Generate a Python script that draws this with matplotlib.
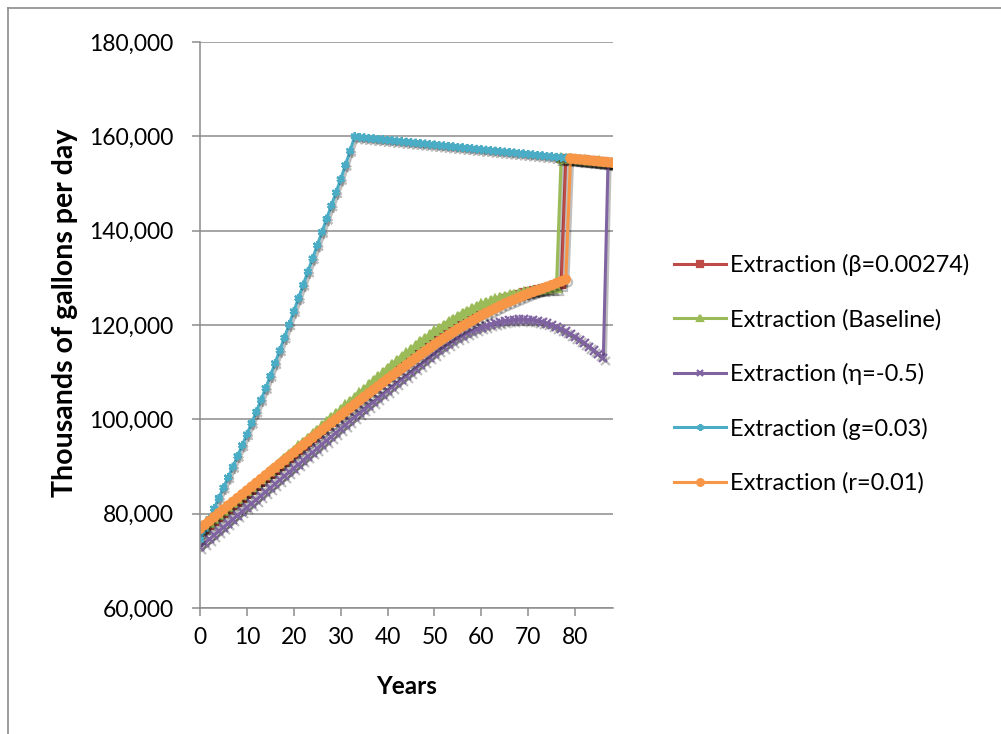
#!/usr/bin/env python3

import numpy as np
import matplotlib
matplotlib.use('Agg')
import matplotlib.pyplot as plt
import matplotlib.patheffects as pe
from matplotlib.ticker import FuncFormatter, MultipleLocator

plt.rcParams['font.family'] = ['Lato', 'DejaVu Sans']

YEARS = np.arange(89)

# shared plateau every series ends on (years 33..88)
plateau = [160000, 159800, 159700, 159600, 159500, 159400, 159300, 159200,
           159100, 159000, 158900, 158800, 158700, 158600, 158500, 158400,
           158300, 158200, 158100, 158000, 157900, 157800, 157700, 157600,
           157500, 157400, 157300, 157200, 157100, 157000, 156900, 156800,
           156700, 156600, 156500, 156400, 156300, 156200, 156100, 156000,
           155900, 155800, 155700, 155600, 155500, 155400, 155300, 155200,
           155100, 155000, 154900, 154800, 154700, 154600, 154500, 154400]

# rising parts, years 0..n
beta_rise = [75900, 76720, 77540, 78360, 79180, 80000, 80820, 81640, 82460,
             83280, 84100, 84940, 85780, 86620, 87460, 88300, 89140, 89980,
             90820, 91660, 92500, 93350, 94200, 95050, 95900, 96750, 97600,
             98450, 99300, 100150, 101000, 101860, 102720, 103580, 104440,
             105300, 106140, 106980, 107820, 108660, 109500, 110330, 111160,
             111980, 112800, 113620, 114420, 115210, 115990, 116760, 117520,
             118250, 118960, 119640, 120290, 120910, 121500, 122060, 122590,
             123090, 123560, 124000, 124420, 124820, 125200, 125560, 125900,
             126220, 126520, 126800, 127060, 127300, 127530, 127750, 127960,
             128160, 128350, 128530]

base_rise = [76400, 77240, 78080, 78920, 79760, 80600, 81440, 82280, 83120,
             83960, 84800, 85660, 86520, 87380, 88240, 89100, 89960, 90820,
             91680, 92540, 93400, 94280, 95160, 96040, 96920, 97800, 98660,
             99520, 100380, 101240, 102100, 102980, 103860, 104740, 105620,
             106500, 107360, 108220, 109080, 109940, 110800, 111620, 112440,
             113260, 114080, 114900, 115700, 116480, 117240, 117980, 118700,
             119380, 120040, 120680, 121300, 121900, 122460, 122990, 123490,
             123960, 124400, 124800, 125170, 125510, 125820, 126100, 126360,
             126600, 126820, 127020, 127200, 127370, 127520, 127650, 127760,
             127850, 127920]

eta_rise = [72900, 73740, 74580, 75420, 76260, 77100, 77940, 78780, 79620,
            80460, 81300, 82130, 82960, 83790, 84620, 85450, 86280, 87110,
            87940, 88770, 89600, 90440, 91280, 92120, 92960, 93800, 94640,
            95480, 96320, 97160, 98000, 98820, 99640, 100460, 101280, 102100,
            102900, 103700, 104500, 105300, 106100, 106880, 107660, 108440,
            109220, 110000, 110780, 111560, 112340, 113120, 113900, 114640,
            115340, 116000, 116620, 117200, 117740, 118240, 118700, 119120,
            119500, 119840, 120140, 120400, 120620, 120810, 120970, 121090,
            121200, 121190, 121130, 121020, 120860, 120650, 120350, 120000,
            119600, 119150, 118650, 118100, 117500, 116850, 116150, 115400,
            114600, 113800, 113000]

g_rise = [74500, 76700, 78900, 81100, 83300, 85500, 87700, 89900, 92200,
          94500, 96800, 99200, 101600, 104100, 106600, 109200, 111900, 114600,
          117300, 120100, 122900, 125700, 128500, 131300, 134100, 136900,
          139700, 142500, 145300, 148100, 150900, 153900, 156900]

r_rise = [76800, 77620, 78440, 79260, 80080, 80900, 81700, 82500, 83300,
          84100, 84900, 85710, 86520, 87330, 88140, 88950, 89750, 90550,
          91350, 92150, 92950, 93750, 94550, 95350, 96150, 96950, 97730,
          98510, 99290, 100070, 100850, 101630, 102410, 103190, 103970,
          104750, 105510, 106270, 107030, 107790, 108550, 109290, 110030,
          110770, 111510, 112250, 112970, 113690, 114410, 115130, 115850,
          116510, 117170, 117830, 118490, 119150, 119730, 120310, 120890,
          121470, 122050, 122550, 123050, 123550, 124050, 124550, 124970,
          125390, 125810, 126230, 126650, 127010, 127370, 127730, 128090,
          128450, 128850, 129250, 129650]

LABELS = ['Extraction (β=0.00274)', 'Extraction (Baseline)',
          'Extraction (η=-0.5)', 'Extraction (g=0.03)', 'Extraction (r=0.01)']
COLORS = ['#BE4B48', '#9BBB59', '#8064A2', '#4BACC6', '#F79646']
MARKERS = ['s', '^', 'x', (6, 2, 0), 'o']
SIZES = [5, 6, 6, 6, 6]


def full_series(rise):
    return rise + plateau[len(rise) - 33:]


def main():
    series = [full_series(r) for r in
              [beta_rise, base_rise, eta_rise, g_rise, r_rise]]

    fig = plt.figure(figsize=(10.01, 7.34), dpi=100)
    ax = fig.add_axes([200 / 1001, 1 - 608 / 734,
                       412.7 / 1001, 566 / 734])

    shadow = [pe.SimpleLineShadow(offset=(1.5, -2), alpha=0.25),
              pe.Normal()]
    for vals, lab, col, mk, sz in zip(series, LABELS, COLORS, MARKERS,
                                      SIZES):
        ax.plot(YEARS, vals, color=col, lw=2.2, marker=mk, ms=sz,
                mew=1.6, mec=col, mfc=col, label=lab, path_effects=shadow)

    ax.set_xlim(0, 88)
    ax.set_ylim(60000, 180000)
    ax.yaxis.set_major_locator(MultipleLocator(20000))
    ax.yaxis.set_major_formatter(FuncFormatter(lambda v, p: f'{int(v):,}'))
    ax.set_xticks(np.arange(0, 81, 10))

    ax.grid(axis='y', color='#8c8c8c', lw=1.1)
    ax.set_axisbelow(True)
    for s in ['top', 'right']:
        ax.spines[s].set_visible(False)
    for s in ['left', 'bottom']:
        ax.spines[s].set_color('#8c8c8c')
        ax.spines[s].set_linewidth(1.1)
    ax.tick_params(axis='both', direction='out', length=6, width=1.1,
                   color='#8c8c8c', labelsize=16.5)
    ax.tick_params(axis='y', pad=13)
    ax.tick_params(axis='x', pad=8)

    fig.text(65 / 1001, 1 - 313 / 734, 'Thousands of gallons per day',
             rotation=90, ha='center', va='center', fontsize=20.5,
             fontweight='bold')
    fig.text(407 / 1001, 1 - 686 / 734, 'Years', ha='center', va='center',
             fontsize=17.5, fontweight='bold')

    leg = fig.legend(loc='center left',
                     bbox_to_anchor=(665 / 1001, 1 - 374 / 734),
                     frameon=False, fontsize=17, handlelength=2.2,
                     handletextpad=0.15, labelspacing=1.38, borderaxespad=0,
                     markerscale=0.8)
    for h in leg.legend_handles:
        h.set_path_effects([])

    # chart border
    fig.add_artist(plt.Line2D([8 / 1001, 8 / 1001], [0, 1 - 8 / 734],
                              color='#8c8c8c', lw=1.2))
    fig.add_artist(plt.Line2D([8 / 1001, 1], [1 - 8 / 734, 1 - 8 / 734],
                              color='#8c8c8c', lw=1.2))

    fig.savefig('out.png', dpi=100)


if __name__ == '__main__':
    main()
